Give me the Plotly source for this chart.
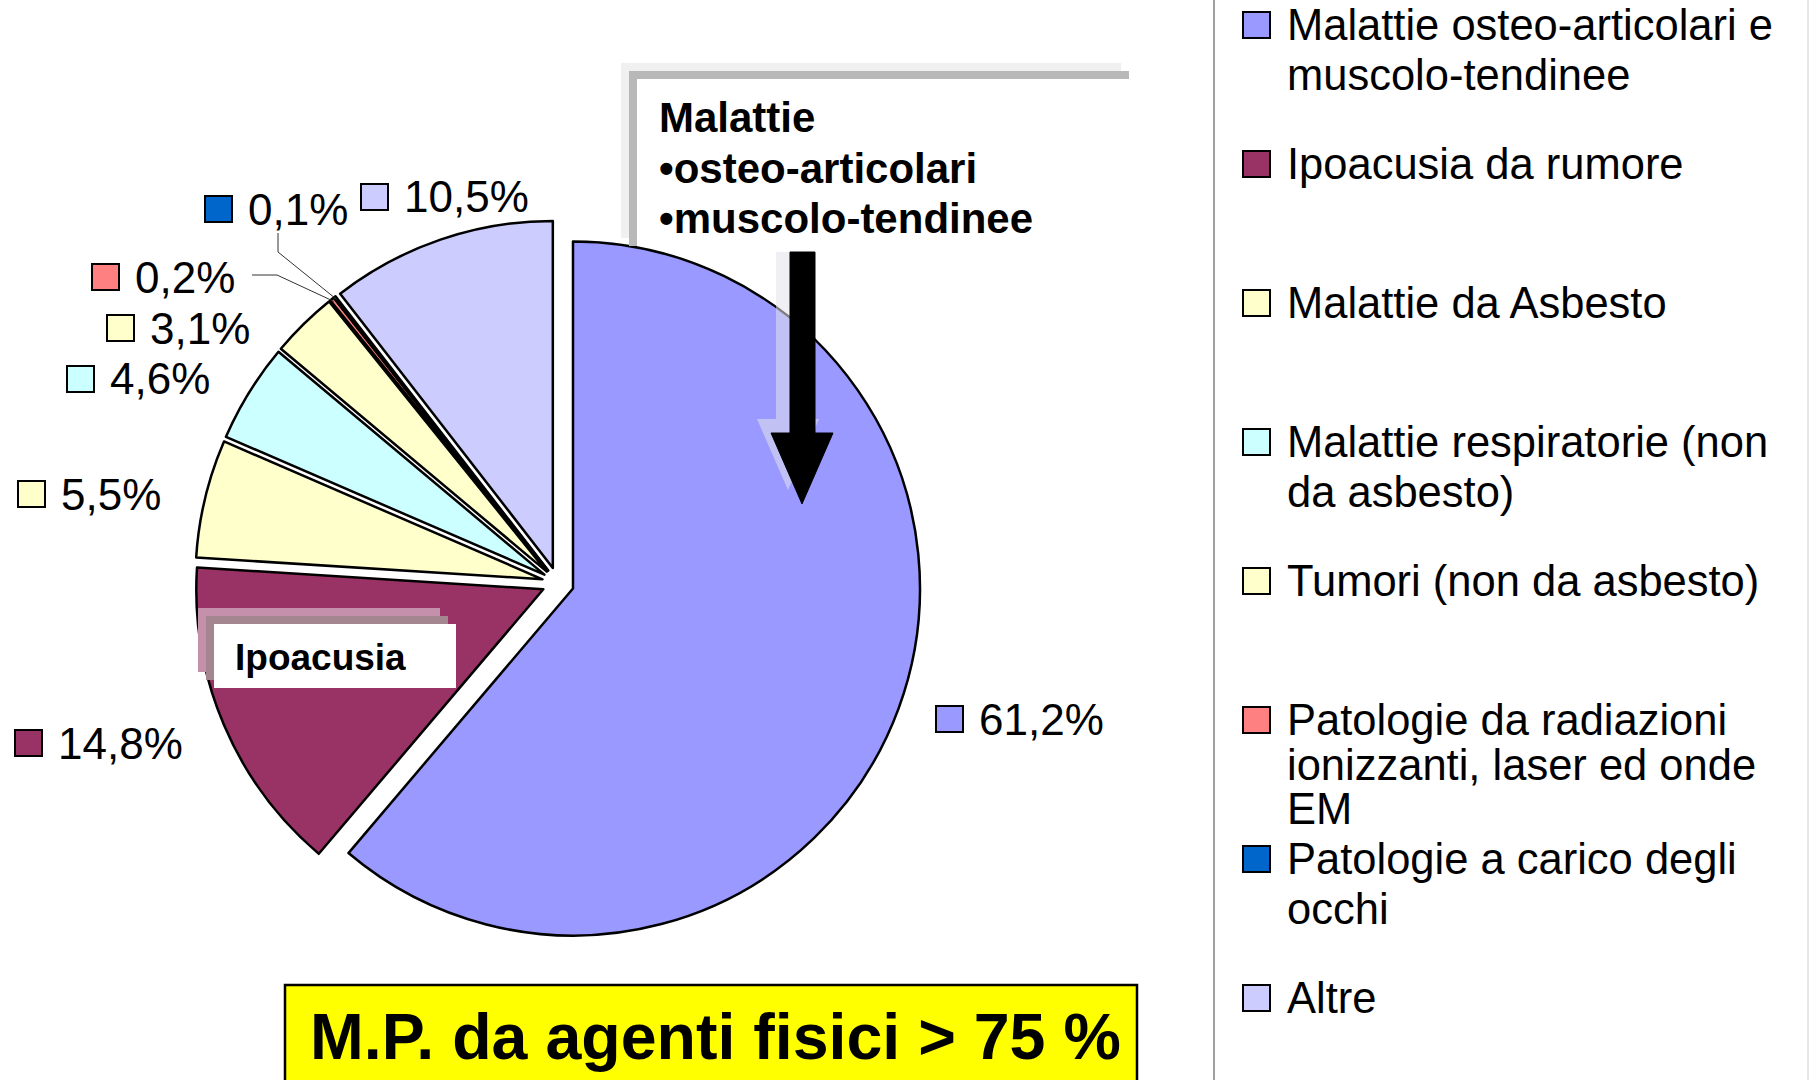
import math
import plotly.graph_objects as go

# ---------------- data ----------------
categories = [
    "Malattie osteo-articolari e muscolo-tendinee",
    "Ipoacusia da rumore",
    "Malattie da Asbesto",
    "Malattie respiratorie (non da asbesto)",
    "Tumori (non da asbesto)",
    "Patologie da radiazioni ionizzanti, laser ed onde EM",
    "Patologie a carico degli occhi",
    "Altre",
]
legend_lines = [
    ["Malattie osteo-articolari e", "muscolo-tendinee"],
    ["Ipoacusia da rumore"],
    ["Malattie da Asbesto"],
    ["Malattie respiratorie (non", "da asbesto)"],
    ["Tumori (non da asbesto)"],
    ["Patologie da radiazioni", "ionizzanti, laser ed onde", "EM"],
    ["Patologie a carico degli", "occhi"],
    ["Altre"],
]
values = [61.2, 14.8, 5.5, 4.6, 3.1, 0.2, 0.1, 10.5]
colors = ["#9999FF", "#993366", "#FFFFCC", "#CCFFFF", "#FFFFCC", "#FF8080", "#0066CC", "#CCCCFF"]

callout_lines = ["Malattie", "•osteo-articolari", "•muscolo-tendinee"]
callout_small = "Ipoacusia"
footer_text = "M.P. da agenti fisici > 75 %"

# ---------------- layout helpers ----------------
W, H = 1810, 1080
FONT = "Liberation Sans, Arial, sans-serif"


def fx(x):
    return x / W


def fy(y):
    return 1 - y / H


# pie geometry (pixels)
CX, CY, R, PULL = 558, 583, 347, 0.046
half = R * (1 + PULL)
domain = dict(x=[fx(CX - half), fx(CX + half)], y=[fy(CY + half), fy(CY - half)])

fig = go.Figure(
    go.Pie(
        values=values,
        labels=categories,
        sort=False,
        direction="clockwise",
        rotation=0,
        pull=[PULL] * len(values),
        marker=dict(colors=colors, line=dict(color="black", width=2.5)),
        textinfo="none",
        hovertemplate="%{label}: %{value}%<extra></extra>",
        showlegend=False,
        domain=domain,
    )
)

shapes = []
annotations = []


def rect(x0, y0, x1, y1, fill, line_color=None, lw=0):
    shapes.append(dict(type="rect", xref="paper", yref="paper",
                       x0=fx(x0), x1=fx(x1), y0=fy(y1), y1=fy(y0),
                       fillcolor=fill, layer="above",
                       line=dict(color=line_color or fill, width=lw)))


def path(points, fill=None, color="black", lw=1):
    d = "M " + " L ".join(f"{fx(x)},{fy(y)}" for x, y in points)
    if fill:
        d += " Z"
    shapes.append(dict(type="path", xref="paper", yref="paper", path=d,
                       fillcolor=fill or "rgba(0,0,0,0)", layer="above",
                       line=dict(color=color, width=lw)))


def text(x, y, s, size, bold=False, color="black", anchor="left"):
    annotations.append(dict(x=fx(x), y=fy(y), xref="paper", yref="paper",
                            text=f"<b>{s}</b>" if bold else s, showarrow=False,
                            xanchor=anchor, yanchor="middle",
                            font=dict(family=FONT, size=size, color=color)))


# ---- legend (right) ----
path([(1214, 0), (1214, H)], color="#808080", lw=1.5)
path([(1808, 0), (1808, H)], color="#D0D0D0", lw=1)
LEG_Y0, LEG_STEP = 25, 139
for i, lines in enumerate(legend_lines):
    cy = LEG_Y0 + i * LEG_STEP
    step = 49.6 if len(lines) < 3 else 44.5
    rect(1243, cy - 13, 1270, cy + 13, colors[i], "black", 2)
    for k, ln in enumerate(lines):
        text(1285, cy + k * step, ln, 43.5)

# ---- percentage labels ----
label_pos = [(936, 719), (15, 743), (18, 494), (67, 379), (107, 328), (92, 277), (205, 209), (361, 197)]
for v, c, (sx, cy) in zip(values, colors, label_pos):
    rect(sx, cy - 13, sx + 27, cy + 13, c, "black", 2)
    text(sx + 41, cy, f"{v:.1f}".replace(".", ",") + "%", 44)

# ---- leader lines for the two tiny slices (end on slice rim) ----
cum = 0
mids = []
for v in values:
    mids.append((cum + v / 2) / sum(values) * 2 * math.pi)
    cum += v


def rim(i):
    a = mids[i]
    rr = R * (1 + PULL) - 3
    return (CX + rr * math.sin(a), CY - rr * math.cos(a))


path([(252, 275), (277, 275), rim(5)], color="#333333", lw=1)
path([(278, 233), (278, 252), rim(6)], color="#333333", lw=1)

# ---- "Ipoacusia" callout ----
rect(198, 608, 440, 672, "#C490AC")
rect(206, 616, 448, 680, "#A3868F")
rect(214, 624, 456, 688, "white")
text(233, 657, callout_small, 37, bold=True)

# ---- "Malattie" callout (shadow bars + text) ----
rect(621, 63, 1121, 71, "#F0F0F0")
rect(621, 63, 629, 238, "#F0F0F0")
rect(629, 71, 1129, 79, "#B8B8B8")
rect(629, 71, 637, 246, "#B8B8B8")
for k, ln in enumerate(callout_lines):
    text(657, 117 + k * 51, ln, 42, bold=True)

# ---- arrow with soft shadow ----
arrow = [(790, 252), (815, 252), (815, 433), (833, 433), (802, 504), (771, 433), (790, 433)]
shadow = [(x - 14, y - 14 if y > 260 else y) for x, y in arrow]
path(shadow, fill="rgba(225,225,235,0.55)", color="rgba(0,0,0,0)", lw=0)
path(arrow, fill="black", color="black", lw=1)

# ---- footer box ----
rect(285, 985, 1137, 1090, "#FFFF00", "black", 2.5)
text(308, 1037, footer_text, 64.5, bold=True)

fig.update_layout(
    width=W, height=H,
    margin=dict(l=0, r=0, t=0, b=0),
    paper_bgcolor="white", plot_bgcolor="white",
    shapes=shapes, annotations=annotations,
    showlegend=False,
)

fig.write_html("out.html", config={"displayModeBar": False},
               post_script="document.body.style.margin='0';")
